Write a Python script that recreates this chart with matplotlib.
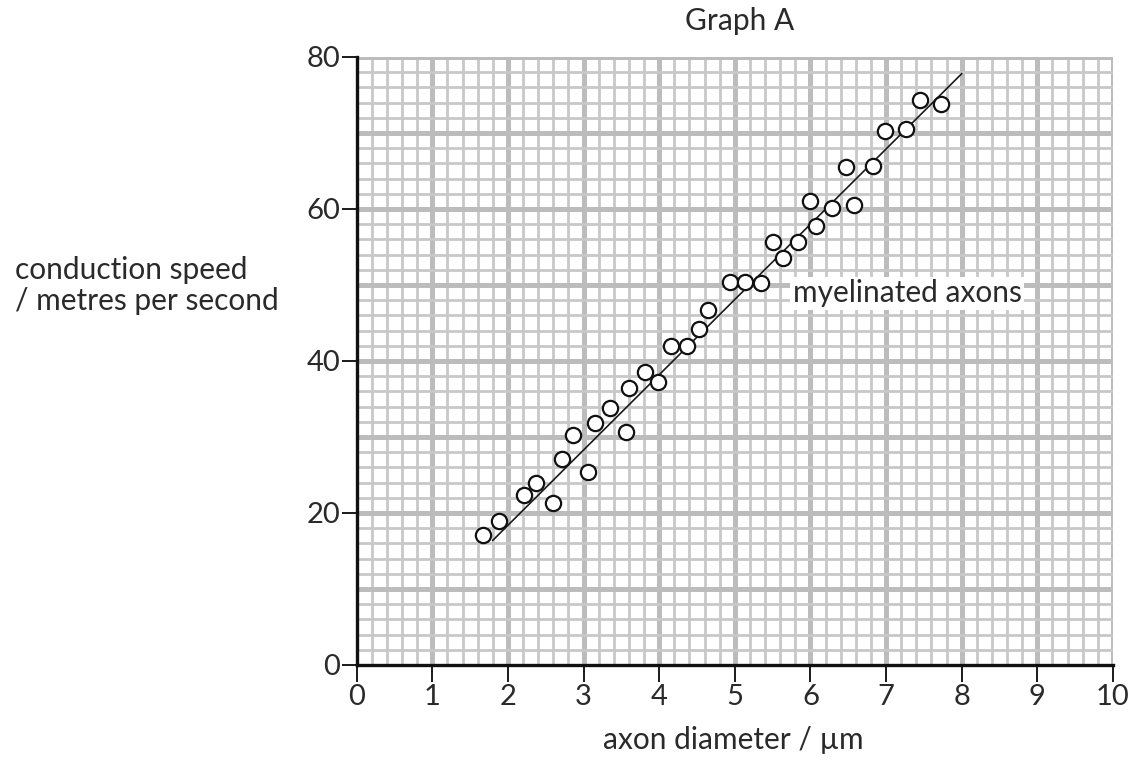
import matplotlib
matplotlib.use("Agg")
import matplotlib.pyplot as plt
import numpy as np

plt.rcParams['font.family'] = ['Lato', 'DejaVu Sans']

# values
diameter = [1.67, 1.88, 2.21, 2.37, 2.60, 2.71, 2.86, 3.06, 3.15, 3.35,
            3.56, 3.60, 3.81, 3.98, 4.16, 4.37, 4.53, 4.64, 4.94, 5.14,
            5.34, 5.51, 5.64, 5.83, 5.99, 6.07, 6.28, 6.47, 6.58, 6.83,
            6.99, 7.27, 7.45, 7.73]
speed = [17.1, 18.9, 22.4, 23.9, 21.3, 27.1, 30.2, 25.4, 31.9, 33.8,
         30.6, 36.5, 38.6, 37.3, 42.0, 42.0, 44.2, 46.7, 50.4, 50.4,
         50.3, 55.6, 53.6, 55.6, 61.0, 57.7, 60.1, 65.5, 60.5, 65.6,
         70.2, 70.5, 74.3, 73.8]
fit_x = [1.8, 8.0]
fit_y = [16.4, 77.8]

x_ticks = [0, 1, 2, 3, 4, 5, 6, 7, 8, 9, 10]
y_ticks = [0, 20, 40, 60, 80]

txt = '#2a2a2a'
fs = 21.5
fig = plt.figure(figsize=(11.38, 7.67), dpi=100)
ax = fig.add_axes([0.3134, 0.133, 0.6646, 0.7927])

# graph paper
for v in np.arange(0.2, 10.01, 0.2):
    major = abs(v - round(v)) < 1e-6
    ax.axvline(v, color='#bcbcbc' if major else '#c8c8c8',
               lw=3.6 if major else 2.0, zorder=0)
for v in np.arange(2, 80.01, 2):
    major = abs(v / 10 - round(v / 10)) < 1e-6
    ax.axhline(v, color='#bcbcbc' if major else '#c8c8c8',
               lw=3.6 if major else 2.0, zorder=0)

ax.plot(fit_x, fit_y, color='#1a1a1a', lw=1.2, zorder=3)
ax.plot(diameter, speed, 'o', ms=11, mfc='white', mec='#111111', mew=1.6, zorder=4)

ax.text(7.28, 48.9, 'myelinated axons', fontsize=fs, color=txt,
        ha='center', va='center', zorder=5,
        bbox=dict(facecolor='white', edgecolor='none', pad=2))

ax.set_xlim(0, 10)
ax.set_ylim(0, 80)
ax.set_xticks(x_ticks)
ax.set_yticks(y_ticks)
ax.tick_params(axis='both', direction='out', width=1.4,
               colors='#1a1a1a', labelsize=21, labelcolor=txt)
ax.tick_params(axis='x', length=12, pad=2)
ax.tick_params(axis='y', length=11, pad=1)
for s in ['top', 'right']:
    ax.spines[s].set_visible(False)
for s in ['left', 'bottom']:
    ax.spines[s].set_linewidth(2.4)
    ax.spines[s].set_color('#111111')
    ax.spines[s].set_zorder(6)

fig.text(0.650, 0.972, 'Graph A', fontsize=fs, color=txt, ha='center', va='center')
fig.text(0.013, 0.628, 'conduction speed\n/ metres per second', fontsize=fs,
         color=txt, ha='left', va='center', linespacing=1.15)
fig.text(0.644, 0.035, 'axon diameter / µm', fontsize=fs, color=txt,
         ha='center', va='center')

fig.savefig('out.png', dpi=100)
